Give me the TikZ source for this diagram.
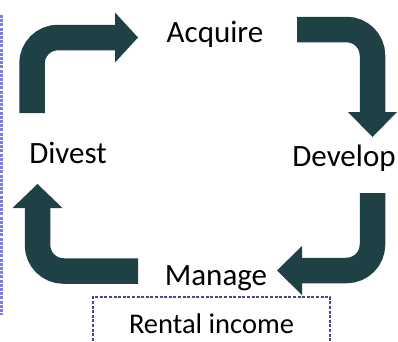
\documentclass[tikz,border=0pt]{standalone}
\usepackage{fontspec}
\setmainfont{Carlito}
\definecolor{cycleteal}{RGB}{30,65,70}
\definecolor{boxedge}{RGB}{70,70,150}
\definecolor{sideedge}{RGB}{125,125,230}
\begin{document}
\begin{tikzpicture}[x=1pt,y=-1pt,
  stage/.style={inner sep=0pt,anchor=base,font=\fontsize{31}{37}\selectfont},
  bentbar/.style={draw=cycleteal,line width=25.5pt,rounded corners=26pt},
  arrowhead/.style={fill=cycleteal,draw=none}]
\useasboundingbox (0,0) rectangle (398,341);

% side frame edge on the left
\draw[sideedge,line width=2.6pt,dash pattern=on 3pt off 1.2pt] (1.3,15) -- (1.3,315);

% stage labels
\node[stage] (acquire) at (215,42) {Acquire};
\node[stage] (develop) at (344,166) {Develop};
\node[stage] (manage)  at (216,285) {Manage};
\node[stage] (divest)  at (68,163) {Divest};

% income box under Manage
\draw[boxedge,line width=1.3pt,dash pattern=on 3pt off 1.6pt]
  (93,350) -- (93,297) -- (330,297) -- (330,350);
\node[inner sep=0pt,anchor=base,font=\fontsize{28.5}{34}\selectfont] (rental) at (211.5,333) {Rental income};

% Divest -> Acquire
\draw[bentbar] (32,113) -- (32,37.5) -- (115.5,37.5);
\fill[arrowhead] (115,12.5) -- (138,37.5) -- (115,62.5) -- cycle;

% Acquire -> Develop
\draw[bentbar] (297,29.5) -- (372.5,29.5) -- (372.5,112.5);
\fill[arrowhead] (348,112) -- (372.5,137) -- (397,112) -- cycle;

% Develop -> Manage
\draw[bentbar] (372.5,193) -- (372.5,270.5) -- (301.5,270.5);
\fill[arrowhead] (302,246) -- (277,270.5) -- (302,295) -- cycle;

% Manage -> Divest
\draw[bentbar] (138,271) -- (37.5,271) -- (37.5,207.5);
\fill[arrowhead] (12.5,208) -- (37.5,184) -- (62.5,208) -- cycle;
\end{tikzpicture}
\end{document}
